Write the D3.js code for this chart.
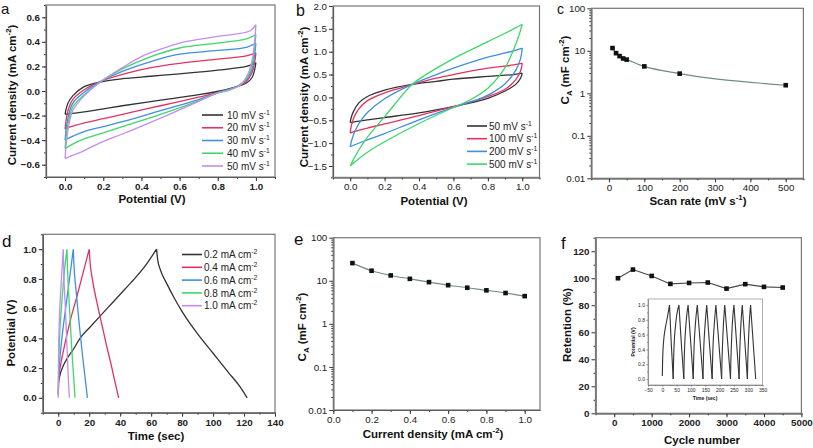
<!DOCTYPE html>
<html><head><meta charset="utf-8">
<script src="https://cdn.jsdelivr.net/npm/d3@7/dist/d3.min.js"></script>
<style>body{margin:0;background:#fff}svg text{font-family:"Liberation Sans",Arial,sans-serif}</style>
</head><body><svg id="fig" width="813" height="448"></svg>
<script>
// ---------------- DATA ----------------
// Panel a: CV loops (potential V, current density mA cm-2)
const aLabels = ["10 mV s", "20 mV s", "30 mV s", "40 mV s", "50 mV s"];
const aUpper = [
  [[0,-0.19],[0.005,-0.15],[0.015,-0.1],[0.04,-0.04],[0.1,0.035],[0.19,0.075],[0.3,0.1],[0.45,0.12],[0.6,0.14],[0.8,0.17],[0.95,0.2],[1.0,0.23]],
  [[0,-0.31],[0.005,-0.24],[0.015,-0.16],[0.04,-0.07],[0.1,0.01],[0.19,0.08],[0.3,0.135],[0.45,0.19],[0.6,0.225],[0.8,0.26],[0.95,0.285],[1.0,0.31]],
  [[0,-0.40],[0.005,-0.32],[0.015,-0.22],[0.04,-0.1],[0.1,-0.01],[0.19,0.08],[0.3,0.16],[0.45,0.24],[0.6,0.3],[0.8,0.33],[0.95,0.355],[1.0,0.39]],
  [[0,-0.47],[0.005,-0.38],[0.015,-0.27],[0.04,-0.13],[0.1,-0.03],[0.19,0.08],[0.3,0.18],[0.45,0.28],[0.6,0.35],[0.8,0.39],[0.95,0.425],[1.0,0.46]],
  [[0,-0.55],[0.005,-0.45],[0.015,-0.32],[0.04,-0.16],[0.1,-0.04],[0.19,0.08],[0.3,0.19],[0.4,0.28],[0.5,0.34],[0.6,0.39],[0.7,0.42],[0.8,0.445],[0.9,0.465],[0.97,0.49],[1.0,0.54]]
];
const aLower = [
  [[1.0,0.23],[0.993,0.17],[0.98,0.11],[0.95,0.065],[0.9,0.035],[0.81,0.0],[0.7,-0.03],[0.5,-0.075],[0.3,-0.12],[0.2,-0.145],[0.1,-0.17],[0.03,-0.185],[0,-0.19]],
  [[1.0,0.31],[0.993,0.23],[0.98,0.15],[0.95,0.08],[0.9,0.035],[0.81,-0.01],[0.7,-0.05],[0.5,-0.12],[0.3,-0.19],[0.2,-0.225],[0.1,-0.26],[0.03,-0.29],[0,-0.31]],
  [[1.0,0.39],[0.993,0.29],[0.98,0.18],[0.95,0.09],[0.9,0.035],[0.81,-0.01],[0.7,-0.07],[0.5,-0.16],[0.3,-0.25],[0.2,-0.29],[0.1,-0.33],[0.03,-0.375],[0,-0.40]],
  [[1.0,0.46],[0.993,0.35],[0.98,0.22],[0.95,0.1],[0.9,0.035],[0.81,-0.01],[0.7,-0.08],[0.5,-0.19],[0.3,-0.29],[0.2,-0.34],[0.1,-0.39],[0.03,-0.44],[0,-0.47]],
  [[1.0,0.54],[0.993,0.4],[0.98,0.25],[0.96,0.145],[0.92,0.05],[0.85,0.0],[0.8,-0.015],[0.7,-0.085],[0.5,-0.22],[0.3,-0.35],[0.2,-0.41],[0.1,-0.485],[0.03,-0.53],[0,-0.55]]
];
// Panel b: CV loops at higher scan rates
const bLabels = ["50 mV s", "100 mV s", "200 mV s", "500 mV s"];
const bUpper = [
  [[0,-0.55],[0.005,-0.45],[0.02,-0.3],[0.05,-0.12],[0.1,0.02],[0.2,0.16],[0.35,0.28],[0.5,0.35],[0.6,0.4],[0.8,0.46],[0.95,0.5],[1.0,0.53]],
  [[0,-0.78],[0.005,-0.65],[0.02,-0.45],[0.05,-0.25],[0.1,-0.07],[0.2,0.1],[0.35,0.27],[0.5,0.42],[0.6,0.5],[0.8,0.64],[0.95,0.71],[1.0,0.75]],
  [[0,-1.08],[0.01,-0.92],[0.03,-0.72],[0.06,-0.52],[0.1,-0.33],[0.2,-0.03],[0.35,0.27],[0.5,0.5],[0.6,0.64],[0.8,0.88],[0.95,1.02],[1.0,1.08]],
  [[0,-1.5],[0.02,-1.35],[0.05,-1.15],[0.1,-0.87],[0.2,-0.42],[0.35,0.25],[0.4,0.4],[0.6,0.85],[0.8,1.22],[0.95,1.5],[1.0,1.6]]
];
const bLower = [
  [[1,0.53],[0.99,0.42],[0.96,0.28],[0.9,0.14],[0.8,-0.02],[0.7,-0.12],[0.6,-0.2],[0.4,-0.34],[0.2,-0.44],[0.1,-0.49],[0.03,-0.53],[0,-0.55]],
  [[1,0.75],[0.99,0.58],[0.96,0.38],[0.9,0.18],[0.8,0.02],[0.7,-0.1],[0.6,-0.2],[0.4,-0.4],[0.2,-0.58],[0.1,-0.67],[0.03,-0.74],[0,-0.78]],
  [[1,1.08],[0.99,0.85],[0.96,0.58],[0.9,0.3],[0.8,0.05],[0.7,-0.1],[0.6,-0.22],[0.4,-0.49],[0.2,-0.79],[0.1,-0.93],[0.03,-1.03],[0,-1.08]],
  [[1,1.6],[0.98,1.35],[0.95,1.05],[0.9,0.65],[0.8,0.2],[0.7,-0.05],[0.6,-0.22],[0.4,-0.57],[0.2,-0.97],[0.1,-1.2],[0.03,-1.4],[0,-1.5]]
];
// Panel c: areal capacitance vs scan rate
const cScan = [10, 20, 30, 40, 50, 100, 200, 500];
const cCap = [11.6, 8.8, 7.5, 6.6, 6.2, 4.3, 2.9, 1.55];
// Panel d: galvanostatic charge/discharge (time s, potential V)
const dLabels = ["0.2 mA cm", "0.4 mA cm", "0.6 mA cm", "0.8 mA cm", "1.0 mA cm"];
const dCharge = [
  [[0,0.1],[1,0.15],[3,0.21],[6,0.27],[10,0.33],[14,0.4],[20,0.47],[27,0.55],[35,0.64],[43,0.73],[50,0.81],[57,0.9],[63.5,1.0]],
  [[0,0.03],[0.4,0.14],[1.5,0.22],[4,0.35],[8,0.53],[12,0.68],[16,0.84],[20,1.0]],
  [[0,0.02],[0.3,0.15],[1,0.26],[3,0.46],[5,0.62],[7.5,0.82],[9.7,1.0]],
  [[0,0.02],[0.2,0.2],[0.8,0.4],[2,0.6],[3.5,0.8],[5.6,1.0]],
  [[0,0.0],[0.2,0.3],[0.8,0.55],[1.8,0.76],[3.2,1.0]]
];
const dDischarge = [
  [[63.5,1.0],[64.2,0.93],[66,0.86],[70,0.77],[75,0.67],[80,0.58],[90,0.43],[100,0.3],[110,0.17],[117,0.08],[122,0.0]],
  [[20,1.0],[20.4,0.93],[22,0.8],[25,0.64],[28,0.5],[31,0.36],[34,0.23],[37,0.09],[39,0.0]],
  [[9.7,1.0],[10.1,0.9],[11.5,0.72],[13.5,0.5],[15.5,0.3],[17.5,0.12],[18.8,0.0]],
  [[5.6,1.0],[6,0.86],[7,0.65],[8,0.46],[9,0.28],[10,0.13],[10.8,0.0]],
  [[3.2,1.0],[3.7,0.8],[4.6,0.6],[5.4,0.4],[6.2,0.2],[7.1,0.0]]
];
// Panel e: areal capacitance vs current density
const eCurrent = [0.1, 0.2, 0.3, 0.4, 0.5, 0.6, 0.7, 0.8, 0.9, 1.0];
const eCap = [25.7, 17.1, 13.3, 11.1, 9.3, 7.9, 6.9, 6.0, 5.2, 4.4];
// Panel f: retention vs cycle number
const fCycle = [100, 500, 1000, 1500, 2000, 2500, 3000, 3500, 4000, 4500];
const fRet = [100, 106.4, 101.7, 95.8, 96.5, 96.8, 92.3, 95.6, 93.6, 93.1];
// Panel f inset: cycling GCD segments (time s, potential V)
const insetCharge = [
  [[0,0.04],[1,0.25],[2.5,0.4],[6,0.57],[12,0.72],[18,0.84],[25,1.0]],
  [[38,0],[39,0.2],[41,0.45],[46,0.72],[58,1]],
  [[75,0],[76,0.2],[78,0.45],[82,0.72],[90,1]],
  [[108,0],[109,0.2],[111,0.45],[115,0.72],[122,1]],
  [[142,0],[143,0.2],[145,0.45],[149,0.72],[155,1]],
  [[174,0],[175,0.2],[177,0.45],[181,0.72],[187,1]],
  [[207,0],[208,0.2],[210,0.45],[213,0.72],[218,1]],
  [[238,0],[239,0.2],[241,0.45],[244,0.72],[250,1]],
  [[268,0],[269,0.2],[271,0.45],[274,0.72],[279,1]],
  [[297,0],[298,0.2],[300,0.45],[303,0.72],[308,1]]
];
const insetDischarge = [
  [[25,1],[31,0.5],[38,0]],
  [[58,1],[66,0.5],[75,0]],
  [[90,1],[99,0.5],[108,0]],
  [[122,1],[132,0.5],[142,0]],
  [[155,1],[164,0.5],[174,0]],
  [[187,1],[197,0.5],[207,0]],
  [[218,1],[228,0.5],[238,0]],
  [[250,1],[259,0.5],[268,0]],
  [[279,1],[288,0.5],[297,0]],
  [[308,1],[317,0.5],[326,0]]
];
// Tick values
const aXTicks = [0, 0.2, 0.4, 0.6, 0.8, 1.0];
const aYTicks = [-0.6, -0.4, -0.2, 0, 0.2, 0.4, 0.6];
const bYTicks = [-1.5, -1.0, -0.5, 0, 0.5, 1.0, 1.5, 2.0];
const cXTicks = [0, 100, 200, 300, 400, 500];
const logTicks = [0.01, 0.1, 1, 10, 100];
const dXTicks = [0, 20, 40, 60, 80, 100, 120, 140];
const dYTicks = [0, 0.2, 0.4, 0.6, 0.8, 1.0];
const fXTicks = [0, 1000, 2000, 3000, 4000, 5000];
const fYTicks = [0, 20, 40, 60, 80, 100, 120];
const inXTicks = [-50, 0, 50, 100, 150, 200, 250, 300, 350];
const inYTicks = [0, 0.2, 0.4, 0.6, 0.8, 1.0];

// ---------------- STYLE ----------------
const aColors = ["#333333", "#e2325f", "#3f8ee0", "#3fd66a", "#c48cf2"];
const bColors = ["#333333", "#e2325f", "#3f8ee0", "#3fd66a"];
const svg = d3.select("#fig");

function rich(sel, parts, fs) {
  let shift = 0;
  parts.forEach(([s, k]) => {
    const t = sel.append("tspan").text(s);
    const target = k === "sup" ? -0.4 * fs : k === "sub" ? 0.28 * fs : 0;
    t.attr("dy", target - shift);
    shift = target;
    if (k) t.attr("font-size", fs * 0.68);
  });
}

function panel(o) {
  const g = svg.append("g");
  const x = o.x, y = o.y;
  const [x0, x1] = x.range(), [y0, y1] = y.range();
  const fs = o.fs || 9.8;
  const fw = o.bold ? "bold" : "normal";
  g.append("g").attr("transform", `translate(0,${y0})`)
    .call(d3.axisBottom(x).tickValues(o.xt).tickFormat(o.xf).tickSize(o.ts || 4).tickSizeOuter(0).tickPadding(o.tp || 2));
  if (o.xm) g.append("g").attr("class", "minor").attr("transform", `translate(0,${y0})`)
    .call(d3.axisBottom(x).tickValues(o.xm).tickFormat("").tickSize(o.ms || 2).tickSizeOuter(0));
  g.append("g").attr("transform", `translate(${x0},0)`)
    .call(d3.axisLeft(y).tickValues(o.yt).tickFormat(o.yf).tickSize(o.ts || 4).tickSizeOuter(0).tickPadding(o.tp || 2));
  if (o.ym) g.append("g").attr("class", "minor").attr("transform", `translate(${x0},0)`)
    .call(d3.axisLeft(y).tickValues(o.ym).tickFormat("").tickSize(o.ms || 2).tickSizeOuter(0));
  g.selectAll(".minor .domain").remove();
  g.selectAll(".tick line").attr("stroke", "#333").attr("stroke-width", o.sw || 1);
  g.selectAll(".domain").attr("stroke", "#333").attr("stroke-width", o.sw || 1.2);
  g.selectAll(".tick text").attr("font-size", fs).attr("font-weight", fw).attr("fill", "#222")
    .attr("font-family", '"Liberation Sans",Arial,sans-serif');
  g.append("rect").attr("x", x0).attr("y", y1).attr("width", x1 - x0).attr("height", y0 - y1)
    .attr("fill", "none").attr("stroke", o.frame || "#777").attr("stroke-width", o.fw || 1.2);
  return g;
}

function addTitle(g, parts, x, y, fs, rot) {
  const t = g.append("text").attr("font-size", fs).attr("font-weight", "bold").attr("fill", "#111")
    .attr("text-anchor", "middle")
    .attr("transform", `translate(${x},${y})` + (rot ? " rotate(-90)" : ""));
  rich(t, parts, fs);
}

function legend(g, labels, colors, sup, x0, x1, tx, ys, fs) {
  labels.forEach((l, i) => {
    const yy = ys[0] + i * ys[1];
    g.append("line").attr("x1", x0).attr("x2", x1).attr("y1", yy).attr("y2", yy)
      .attr("stroke", colors[i]).attr("stroke-width", 1.6);
    const t = g.append("text").attr("x", tx).attr("y", yy + fs * 0.36).attr("font-size", fs).attr("fill", "#222");
    rich(t, [[l, null], [sup, "sup"]], fs);
  });
}

function letter(s, x, y, fs) {
  svg.append("text").attr("x", x).attr("y", y).attr("font-size", fs).attr("fill", "#111").text(s);
}

const f1 = d3.format(".1f");
const logFmt = d => String(d);
const lineCR = (x, y) => d3.line().x(d => x(d[0])).y(d => y(d[1])).curve(d3.curveCatmullRom.alpha(0.5));
const lineMX = (x, y) => d3.line().x(d => x(d[0])).y(d => y(d[1])).curve(d3.curveMonotoneX);

// ---------------- PANEL A ----------------
{
  const x = d3.scaleLinear().domain([-0.1, 1.1]).range([46, 275]);
  const y = d3.scaleLinear().domain([-0.7, 0.7]).range([177, 5]);
  const g = panel({x, y, xt: aXTicks, xf: f1, yt: aYTicks, yf: f1, bold: true,
    xm: d3.range(-0.1, 1.11, 0.1).map(v => +v.toFixed(2)), ym: d3.range(-0.7, 0.71, 0.1).map(v => +v.toFixed(2))});
  const ln = lineCR(x, y);
  aUpper.forEach((u, i) => {
    g.append("path").attr("d", ln(u) + ln(aLower[i])).attr("fill", "none")
      .attr("stroke", aColors[i]).attr("stroke-width", 1.3);
  });
  legend(g, aLabels, aColors, "-1", 202, 223, 227, [115, 12.75], 10);
  addTitle(g, [["Current density (mA cm", null], ["-2", "sup"], [")", null]], 15.5, 95, 11.5, true);
  addTitle(g, [["Potential (V)", null]], 152, 203, 11.5, false);
  letter("a", 1, 14, 15);
}
// ---------------- PANEL B ----------------
{
  const x = d3.scaleLinear().domain([-0.1, 1.1]).range([333, 539.5]);
  const y = d3.scaleLinear().domain([-1.75, 2.0]).range([177.4, 6]);
  const g = panel({x, y, xt: aXTicks, xf: f1, yt: bYTicks, yf: f1,
    xm: d3.range(-0.1, 1.11, 0.1).map(v => +v.toFixed(2)), ym: d3.range(-1.75, 2.01, 0.25)});
  const ln = lineCR(x, y);
  bUpper.forEach((u, i) => {
    g.append("path").attr("d", ln(u) + ln(bLower[i])).attr("fill", "none")
      .attr("stroke", bColors[i]).attr("stroke-width", 1.3);
  });
  legend(g, bLabels, bColors, "-1", 467, 487, 489, [126, 12.7], 10);
  addTitle(g, [["Current density (mA cm", null], ["-2", "sup"], [")", null]], 308, 97, 11.5, true);
  addTitle(g, [["Potential (V)", null]], 434, 205, 11.5, false);
  letter("b", 296, 16, 16);
}
// ---------------- PANEL C ----------------
{
  const x = d3.scaleLinear().domain([-50, 550]).range([591.3, 803.4]);
  const y = d3.scaleLog().domain([0.01, 100]).range([178.3, 8.3]);
  const g = panel({x, y, xt: cXTicks, xf: d3.format("d"), yt: logTicks, yf: logFmt,
    xm: d3.range(-50, 551, 50), ym: y.ticks().filter(v => !logTicks.includes(v))});
  const pts = cScan.map((v, i) => [v, cCap[i]]);
  g.append("path").attr("d", lineMX(x, y)(pts)).attr("fill", "none").attr("stroke", "#6f8c8c").attr("stroke-width", 1.1);
  g.selectAll("rect.m").data(pts).enter().append("rect").attr("class", "m")
    .attr("x", d => x(d[0]) - 2.3).attr("y", d => y(d[1]) - 2.3).attr("width", 4.6).attr("height", 4.6).attr("fill", "#111");
  addTitle(g, [["C", null], ["A", "sub"], [" (mF cm", null], ["-2", "sup"], [")", null]], 569, 70, 11.5, true);
  addTitle(g, [["Scan rate (mV s", null], ["-1", "sup"], [")", null]], 698, 205, 11.5, false);
  letter("c", 557, 14, 14);
}
// ---------------- PANEL D ----------------
{
  const x = d3.scaleLinear().domain([-10, 140]).range([42.8, 275]);
  const y = d3.scaleLinear().domain([-0.1, 1.1]).range([412.7, 234.3]);
  const g = panel({x, y, xt: dXTicks, xf: d3.format("d"), yt: dYTicks, yf: f1, bold: true,
    xm: d3.range(-10, 141, 10), ym: d3.range(-0.1, 1.11, 0.1).map(v => +v.toFixed(2))});
  const ln = lineMX(x, y);
  dCharge.forEach((c, i) => {
    g.append("path").attr("d", ln(c) + ln(dDischarge[i])).attr("fill", "none")
      .attr("stroke", aColors[i]).attr("stroke-width", 1.3);
  });
  legend(g, dLabels, aColors, "-2", 182, 202, 204, [254.5, 12.8], 10);
  addTitle(g, [["Potential (V)", null]], 14.5, 333, 11.5, true);
  addTitle(g, [["Time (sec)", null]], 156, 440, 11.5, false);
  letter("d", 2, 247, 17);
}
// ---------------- PANEL E ----------------
{
  const x = d3.scaleLinear().domain([0, 1.08]).range([333.3, 540]);
  const y = d3.scaleLog().domain([0.01, 100]).range([410, 237.7]);
  const g = panel({x, y, xt: aXTicks, xf: f1, yt: logTicks, yf: logFmt,
    xm: d3.range(0, 1.08, 0.1).map(v => +v.toFixed(2)), ym: y.ticks().filter(v => !logTicks.includes(v))});
  const pts = eCurrent.map((v, i) => [v, eCap[i]]);
  g.append("path").attr("d", lineMX(x, y)(pts)).attr("fill", "none").attr("stroke", "#6f8c8c").attr("stroke-width", 1.1);
  g.selectAll("rect.m").data(pts).enter().append("rect").attr("class", "m")
    .attr("x", d => x(d[0]) - 2.3).attr("y", d => y(d[1]) - 2.3).attr("width", 4.6).attr("height", 4.6).attr("fill", "#111");
  addTitle(g, [["C", null], ["A", "sub"], [" (mF cm", null], ["-2", "sup"], [")", null]], 306, 327, 11.5, true);
  addTitle(g, [["Current density (mA cm", null], ["-2", "sup"], [")", null]], 433, 438, 11.5, false);
  letter("e", 294, 245, 17);
}
// ---------------- PANEL F ----------------
{
  const x = d3.scaleLinear().domain([-500, 5000]).range([595.5, 801.4]);
  const y = d3.scaleLinear().domain([0, 130]).range([413.3, 237.7]);
  const g = panel({x, y, xt: fXTicks, xf: d3.format("d"), yt: fYTicks, yf: d3.format("d"), bold: true,
    xm: d3.range(-500, 5001, 500), ym: d3.range(10, 131, 20)});
  const pts = fCycle.map((v, i) => [v, fRet[i]]);
  g.append("path").attr("d", d3.line().x(d => x(d[0])).y(d => y(d[1]))(pts)).attr("fill", "none")
    .attr("stroke", "#444").attr("stroke-width", 1.1);
  g.selectAll("rect.m").data(pts).enter().append("rect").attr("class", "m")
    .attr("x", d => x(d[0]) - 2.3).attr("y", d => y(d[1]) - 2.3).attr("width", 4.6).attr("height", 4.6).attr("fill", "#111");
  addTitle(g, [["Retention (%)", null]], 571, 325, 11.5, true);
  addTitle(g, [["Cycle number", null]], 702, 444, 11.5, false);
  letter("f", 561, 249, 17);

  // inset
  const ix = d3.scaleLinear().domain([-50, 350]).range([648, 762.6]);
  const iy = d3.scaleLinear().domain([-0.08, 1.08]).range([385, 299]);
  svg.append("rect").attr("x", 648).attr("y", 299).attr("width", 114.6).attr("height", 86).attr("fill", "#fff");
  const gi = panel({x: ix, y: iy, xt: inXTicks, xf: d3.format("d"), yt: inYTicks, yf: f1,
    fs: 5, ts: 1.5, tp: 1.5, sw: 0.6, fw: 0.8, frame: "#999",
    xm: d3.range(-25, 350, 50), ym: d3.range(0.1, 1.0, 0.2).map(v => +v.toFixed(2)), ms: 1});
  const iln = lineMX(ix, iy);
  insetCharge.forEach((c, i) => {
    gi.append("path").attr("d", iln(c) + iln(insetDischarge[i])).attr("fill", "none")
      .attr("stroke", "#333").attr("stroke-width", 1.1);
  });
  addTitle(gi, [["Potential (V)", null]], 635, 342, 5, true);
  addTitle(gi, [["Time (sec)", null]], 705, 400, 5, false);
}
</script></body></html>
